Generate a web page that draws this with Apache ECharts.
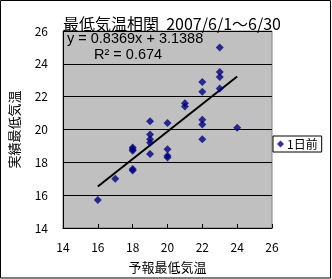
<!DOCTYPE html>
<html>
<head>
<meta charset="utf-8">
<style>
  html, body { margin: 0; padding: 0; background: #fff; }
  #chart { width: 332px; height: 279px; }
</style>
<script src="https://cdn.jsdelivr.net/npm/echarts@6/dist/echarts.min.js"></script>
</head>
<body>
<div id="chart"></div>
<script>
// 予報 (x) と 実績 (y) の最低気温, 2007/6/1～6/30
const forecast = [16, 17, 18, 18, 18, 18, 18, 19, 19, 19, 19, 19, 20, 20, 20, 20, 21, 21, 22, 22, 22, 22, 22, 23, 23, 23, 23, 24];
const actual = [15.7, 17.0, 17.5, 17.6, 18.7, 18.8, 18.9, 20.5, 19.7, 19.4, 19.2, 18.5, 20.4, 18.8, 18.4, 18.3, 21.6, 21.4, 22.9, 22.3, 20.6, 20.3, 19.4, 25.0, 23.5, 23.2, 22.5, 20.1];
const slope = 0.8369;
const intercept = 3.1388;
const r2 = 0.674;
const axisTicks = [14, 16, 18, 20, 22, 24, 26];

const FONT = '"Noto Sans CJK JP", "Noto Sans", sans-serif';
const EQ_FONT = '14.5px "Liberation Sans", sans-serif';

const points = forecast.map((x, i) => [x, actual[i]]);
const xMin = Math.min(...forecast);
const xMax = Math.max(...forecast);
const trend = [xMin, xMax].map(x => [x, slope * x + intercept]);

const chart = echarts.init(document.getElementById('chart'));

const axisCommon = {
  type: 'value',
  min: axisTicks[0],
  max: axisTicks[axisTicks.length - 1],
  interval: 2,
  axisLine: { show: true, lineStyle: { color: '#000', width: 1 } },
  axisTick: { show: true, inside: true, length: 4, lineStyle: { color: '#000' } },
  axisLabel: { color: '#000', fontSize: 12, fontFamily: FONT },
  nameLocation: 'middle',
  nameTextStyle: { color: '#000', fontSize: 13, fontFamily: FONT }
};

chart.setOption({
  animation: false,
  backgroundColor: '#fff',
  title: {
    text: '最低気温相関  2007/6/1～6/30',
    left: 167,
    top: 11,
    textAlign: 'center',
    textStyle: { color: '#000', fontSize: 16, fontWeight: 'normal', fontFamily: FONT }
  },
  grid: {
    left: 63,
    top: 31,
    width: 209,
    height: 198,
    show: true,
    backgroundColor: '#c0c0c0',
    borderColor: '#808080',
    borderWidth: 1
  },
  legend: {
    data: ['1日前'],
    left: 273,
    top: 136,
    orient: 'vertical',
    icon: 'diamond',
    itemWidth: 7,
    itemHeight: 7,
    itemGap: 0,
    padding: [2, 4, 2, 4],
    borderColor: '#000',
    borderWidth: 1,
    borderRadius: 0,
    backgroundColor: '#fff',
    textStyle: { color: '#000', fontSize: 12, fontFamily: FONT, padding: [0, 0, 0, -2] }
  },
  xAxis: Object.assign({}, axisCommon, {
    name: '予報最低気温',
    nameGap: 33,
    axisLabel: Object.assign({}, axisCommon.axisLabel, { margin: 13 }),
    splitLine: { show: false }
  }),
  yAxis: Object.assign({}, axisCommon, {
    name: '実績最低気温',
    nameGap: 42,
    nameRotate: 90,
    axisLabel: Object.assign({}, axisCommon.axisLabel, { margin: 15 }),
    splitLine: { show: true, lineStyle: { color: '#000', width: 1 } }
  }),
  series: [
    {
      name: '1日前',
      type: 'scatter',
      symbol: 'diamond',
      symbolSize: 8,
      itemStyle: { color: '#000080' },
      data: points,
      z: 3
    },
    {
      name: 'trend',
      type: 'line',
      symbol: 'none',
      lineStyle: { color: '#000', width: 2 },
      data: trend,
      z: 2
    }
  ],
  graphic: [
    {
      type: 'rect',
      shape: { x: 0.5, y: 0.5, width: 330, height: 277.5 },
      style: { fill: 'none', stroke: '#000', lineWidth: 1 },
      silent: true
    },
    {
      type: 'text',
      x: 67,
      y: 39,
      z: 10,
      style: {
        text: 'y = ' + slope + 'x + ' + intercept,
        fill: '#000',
        font: EQ_FONT,
        verticalAlign: 'middle'
      }
    },
    {
      type: 'text',
      x: 94,
      y: 55,
      z: 10,
      style: {
        text: 'R² = ' + r2,
        fill: '#000',
        font: EQ_FONT,
        verticalAlign: 'middle'
      }
    }
  ]
});
</script>
</body>
</html>
